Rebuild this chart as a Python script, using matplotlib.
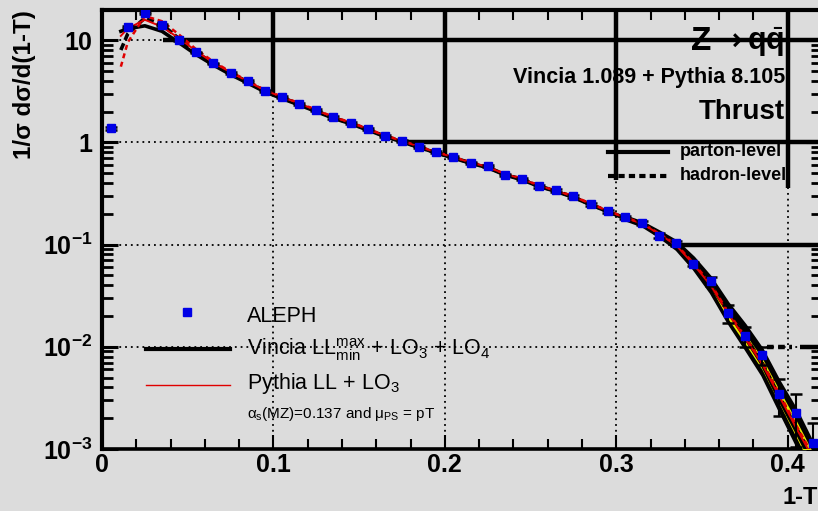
import matplotlib
matplotlib.use("Agg")
import matplotlib.pyplot as plt
from matplotlib.ticker import FixedLocator, FixedFormatter, LogLocator, NullFormatter, MultipleLocator

plt.rcParams['font.family'] = ['Liberation Sans', 'DejaVu Sans']
plt.rcParams['mathtext.fontset'] = 'custom'
plt.rcParams['mathtext.rm'] = 'Liberation Sans'
plt.rcParams['mathtext.it'] = 'Liberation Sans:italic'
plt.rcParams['mathtext.bf'] = 'Liberation Sans:bold'

# ---------------- data ----------------
x_bins = [0.005, 0.015, 0.025, 0.035, 0.045, 0.055, 0.065, 0.075, 0.085, 0.095,
          0.105, 0.115, 0.125, 0.135, 0.145, 0.155, 0.165, 0.175, 0.185, 0.195,
          0.205, 0.215, 0.225, 0.235, 0.245, 0.255, 0.265, 0.275, 0.285, 0.295,
          0.305, 0.315, 0.325, 0.335, 0.345, 0.355, 0.365, 0.375, 0.385, 0.395,
          0.405, 0.415]

aleph = [1.37, 13.5, 18.3, 14.0, 10.0, 7.58, 5.91, 4.78, 3.96, 3.19,
         2.78, 2.39, 2.06, 1.75, 1.56, 1.34, 1.15, 1.03, 0.90, 0.80,
         0.718, 0.633, 0.586, 0.482, 0.44, 0.371, 0.338, 0.296, 0.247, 0.211,
         0.184, 0.162, 0.1225, 0.103, 0.0647, 0.0437, 0.0214, 0.0128, 0.00835, 0.00349,
         0.00224, 0.00114]
aleph_err = [0.05, 0.3, 0.4, 0.3, 0.2, 0.15, 0.12, 0.1, 0.08, 0.07,
             0.06, 0.05, 0.045, 0.04, 0.035, 0.03, 0.027, 0.025, 0.022, 0.02,
             0.018, 0.016, 0.015, 0.013, 0.012, 0.011, 0.010, 0.009, 0.008, 0.0075,
             0.007, 0.0065, 0.006, 0.006, 0.0035, 0.004, 0.0042, 0.0028, 0.0017, 0.0014,
             0.0012, 0.00065]

# MC curves (first MC point sits just above 1-T = 0.01)
mc_x = [0.011, 0.015, 0.025, 0.035, 0.045, 0.055, 0.065, 0.075, 0.085, 0.095,
        0.105, 0.115, 0.125, 0.135, 0.145, 0.155, 0.165, 0.175, 0.185, 0.195,
        0.205, 0.215, 0.225, 0.235, 0.245, 0.255, 0.265, 0.275, 0.285, 0.295,
        0.305, 0.315, 0.325, 0.335, 0.345, 0.355, 0.365, 0.375, 0.385, 0.395,
        0.405, 0.415]
vin_parton = [12.2, 12.9, 13.8, 12.2, 9.4, 7.2, 5.7, 4.6, 3.8, 3.12,
              2.68, 2.32, 2.0, 1.72, 1.52, 1.32, 1.14, 1.01, 0.89, 0.79,
              0.70, 0.625, 0.565, 0.48, 0.43, 0.37, 0.33, 0.29, 0.245, 0.21,
              0.18, 0.158, 0.128, 0.098, 0.066, 0.040, 0.0225, 0.0125, 0.0068, 0.0031,
              0.0015, 0.0007]
vin_hadron = [8.0, 11.5, 16.5, 14.2, 10.3, 7.6, 5.9, 4.75, 3.9, 3.17,
              2.74, 2.36, 2.03, 1.74, 1.54, 1.33, 1.15, 1.02, 0.895, 0.79,
              0.71, 0.628, 0.57, 0.485, 0.435, 0.372, 0.334, 0.292, 0.247, 0.212,
              0.182, 0.16, 0.126, 0.10, 0.066, 0.041, 0.023, 0.0128, 0.007, 0.0033,
              0.0016, 0.0008]
pyt_parton = [11.0, 13.0, 15.8, 13.5, 10.4, 7.8, 6.0, 4.85, 3.95, 3.22,
              2.78, 2.4, 2.06, 1.76, 1.56, 1.35, 1.16, 1.03, 0.905, 0.80,
              0.715, 0.635, 0.575, 0.49, 0.44, 0.375, 0.336, 0.295, 0.25, 0.213,
              0.183, 0.16, 0.127, 0.098, 0.064, 0.040, 0.0215, 0.0122, 0.0068, 0.0033,
              0.0016, 0.0008]
pyt_hadron = [5.5, 9.5, 17.2, 15.3, 11.3, 8.1, 6.15, 4.9, 4.0, 3.25,
              2.8, 2.42, 2.08, 1.77, 1.57, 1.36, 1.17, 1.04, 0.91, 0.805,
              0.72, 0.64, 0.58, 0.492, 0.443, 0.377, 0.338, 0.297, 0.252, 0.215,
              0.185, 0.162, 0.128, 0.10, 0.066, 0.0415, 0.0222, 0.0126, 0.0071, 0.0035,
              0.0017, 0.00085]

band_x = [0.305, 0.315, 0.325, 0.335, 0.345, 0.355, 0.365, 0.375, 0.385, 0.395, 0.405, 0.415]
band_lo = [0.176, 0.153, 0.120, 0.090, 0.058, 0.034, 0.0175, 0.0097, 0.0053, 0.0024, 0.0011, 0.0005]
band_hi = [0.190, 0.166, 0.135, 0.108, 0.075, 0.048, 0.027, 0.0165, 0.0095, 0.0046, 0.0024, 0.0011]

yel_x = [0.355, 0.365, 0.375, 0.385, 0.395, 0.405, 0.415]
yel_lo = [0.038, 0.019, 0.0108, 0.006, 0.0028, 0.0013, 0.0006]
yel_hi = [0.043, 0.023, 0.0135, 0.0078, 0.0038, 0.0019, 0.0009]

xtick_vals = [0.0, 0.1, 0.2, 0.3, 0.4]
xtick_labels = ['0', '0.1', '0.2', '0.3', '0.4']
ytick_vals = [1e-3, 1e-2, 1e-1, 1, 10]
ytick_labels = [r'$\mathbf{10^{-3}}$', r'$\mathbf{10^{-2}}$', r'$\mathbf{10^{-1}}$', '1', '10']

# ---------------- figure ----------------
BG = '#dcdcdc'
W, H = 818, 511
fig = plt.figure(figsize=(W / 100, H / 100), dpi=100, facecolor=BG)
L, R, B, T = 102, 822, 449, 10
ax = fig.add_axes([L / W, 1 - B / H, (R - L) / W, (B - T) / H], facecolor=BG)
ax.set_yscale('log')
ax.set_xlim(0, 0.42)
ax.set_ylim(1e-3, 19.7)

# grid
for gx in [0.1, 0.2, 0.3, 0.4]:
    ax.axvline(gx, color='black', lw=1.3, ls=(0, (1, 2.2)), zorder=1)
for gy in [10, 1, 0.1, 0.01]:
    ax.axhline(gy, color='black', lw=1.3, ls=(0, (1, 2.2)), zorder=1)

# thick frame artefacts over parts of the grid
tk = dict(color='black', lw=3.2, zorder=2, solid_capstyle='butt')
ax.axhline(10, xmin=(163 - L) / (R - L), xmax=1, **tk)
ax.axhline(1, xmin=(407 - L) / (R - L), xmax=1, **tk)
ax.axhline(0.1, xmin=(680 - L) / (R - L), xmax=1, **tk)
ax.axhline(0.01, xmin=(800 - L) / (R - L), xmax=1, **tk)
ax.axhline(0.01, xmin=(767 - L) / (R - L), xmax=(792 - L) / (R - L), color='black', lw=3.2,
           ls=(0, (1.5, 1)), zorder=2)
ax.axvline(0.1, ymin=(B - 95) / (B - T), ymax=1, **tk)
ax.axvline(0.2, ymin=(B - 157) / (B - T), ymax=1, **tk)
ax.axvline(0.3, ymin=(B - 180) / (B - T), ymax=1, **tk)
ax.axvline(0.4, ymin=(B - 188) / (B - T), ymax=1, **tk)

# curves
ax.fill_between(band_x, band_lo, band_hi, color='black', lw=2.0, zorder=3)
ax.fill_between(yel_x, yel_lo, yel_hi, color='#e8e800', lw=0, zorder=4)
ax.plot(mc_x, vin_parton, color='black', lw=2.6, zorder=5)
ax.plot(mc_x, vin_hadron, color='black', lw=2.6, ls=(0, (2, 1)), zorder=5)
ax.plot(mc_x, pyt_parton, color='#e00000', lw=1.4, zorder=6)
ax.plot(mc_x, pyt_hadron, color='#e00000', lw=1.8, ls=(0, (2, 1.5)), zorder=6)

# data
ax.errorbar(x_bins, aleph, yerr=aleph_err, fmt='s', color='#0000e6', mec='#0000e6',
            ms=6.3, ecolor='black', elinewidth=1.5, capsize=4, capthick=1.8, zorder=7)

# axes styling
for s in ['left', 'top']:
    ax.spines[s].set_linewidth(3)
ax.spines['bottom'].set_linewidth(2.6)
ax.spines['right'].set_linewidth(2.6)
ax.xaxis.set_major_locator(FixedLocator(xtick_vals))
ax.xaxis.set_major_formatter(FixedFormatter(xtick_labels))
ax.xaxis.set_minor_locator(MultipleLocator(0.02))
ax.yaxis.set_major_locator(FixedLocator(ytick_vals))
ax.yaxis.set_major_formatter(FixedFormatter(ytick_labels))
ax.yaxis.set_minor_locator(LogLocator(base=10, subs=[2, 3, 4, 5, 6, 7, 8, 9], numticks=20))
ax.yaxis.set_minor_formatter(NullFormatter())
ax.tick_params(axis='both', which='both', direction='in', top=True, right=True, color='black')
ax.tick_params(axis='y', which='major', length=11.5, width=2.2, labelsize=18, pad=7)
ax.tick_params(axis='y', which='minor', length=8, width=2.0)
ax.tick_params(axis='x', which='major', length=10, width=1.5, labelsize=18, pad=3)
ax.tick_params(axis='x', which='minor', length=7, width=1.5)
for lab in ax.get_xticklabels() + ax.get_yticklabels():
    lab.set_fontweight('bold')

# texts
fig.text(691 / W, 1 - 41 / H, 'Z', ha='left', va='center', fontsize=24, fontweight='bold')
fig.text(729 / W, 1 - 42 / H, '→', ha='center', va='center', fontsize=22, fontweight='bold',
         family=['DejaVu Sans'])
fig.text(784 / W, 1 - 42 / H, 'q$\\bar{\\mathbf{q}}$', ha='right', va='center',
         fontsize=22, fontweight='bold')
fig.text(785 / W, 1 - 78 / H, 'Vincia 1.089 + Pythia 8.105', ha='right', va='center',
         fontsize=15.5, fontweight='bold')
fig.text(785 / W, 1 - 112 / H, 'Thrust', ha='right', va='center', fontsize=20, fontweight='bold')

# parton/hadron legend
fig.add_artist(plt.Line2D([608 / W, 668 / W], [1 - 152 / H, 1 - 152 / H], color='black', lw=3))
fig.add_artist(plt.Line2D([608 / W, 668 / W], [1 - 176 / H, 1 - 176 / H], color='black', lw=3,
                          ls=(0, (1.5, 1))))
fig.text(680 / W, 1 - 151 / H, 'parton-level', ha='left', va='center', fontsize=13, fontweight='bold')
fig.text(680 / W, 1 - 176 / H, 'hadron-level', ha='left', va='center', fontsize=13, fontweight='bold')

# main legend
fig.add_artist(plt.Line2D([187 / W], [1 - 312 / H], marker='s', color='#0000e6', ms=6, ls='none'))
fig.add_artist(plt.Line2D([146 / W, 230 / W], [1 - 349 / H, 1 - 349 / H], color='black', lw=3))
fig.add_artist(plt.Line2D([146 / W, 230 / W], [1 - 385 / H, 1 - 385 / H], color='#e00000', lw=1))
fig.text(247 / W, 1 - 316 / H, 'ALEPH', ha='left', va='center', fontsize=15.5)
fig.text(247 / W, 1 - 350 / H, r'Vincia LL$^{\rm max}_{\rm min}$ + LO$_3$ + LO$_4$', ha='left',
         va='center', fontsize=15.5)
fig.text(247 / W, 1 - 383 / H, r'Pythia LL + LO$_3$', ha='left', va='center', fontsize=15.5)
fig.text(247 / W, 1 - 414 / H, r'α$_{\rm s}$(MZ)=0.137 and μ$_{\rm PS}$ = pT', ha='left',
         va='center', fontsize=11)

# axis titles
fig.text(1.0, 1 - 497 / H, '1-T', ha='right', va='center', fontsize=17, fontweight='bold')
fig.text(25 / W, 1 - 10 / H, '1/σ dσ/d(1-T)', ha='center', va='top', rotation=90,
         fontsize=17.5, fontweight='bold')

fig.savefig('out.png', dpi=100, facecolor=BG)
